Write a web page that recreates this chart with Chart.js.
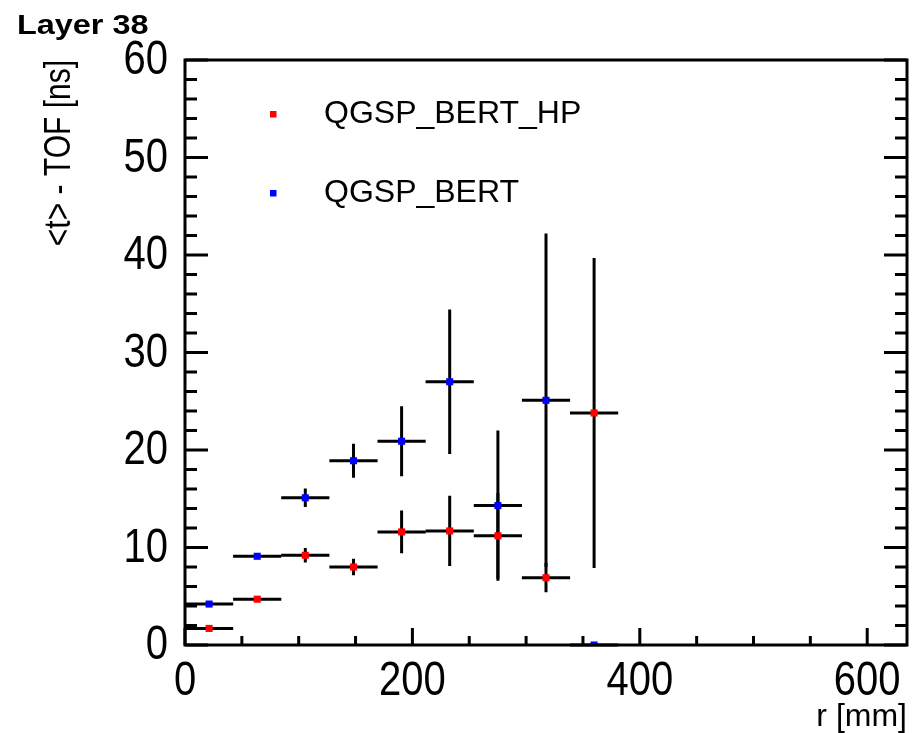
<!DOCTYPE html>
<html>
<head>
<meta charset="utf-8">
<script src="https://cdn.jsdelivr.net/npm/chart.js@4.4.0/dist/chart.umd.min.js"></script>
<style>
  html, body { margin: 0; padding: 0; background: #fff; }
  #wrap { width: 912px; height: 733px; }
</style>
</head>
<body>
<div id="wrap"><canvas id="grafico" width="912" height="733"></canvas></div>
<script>
// valores
const rCenters = [21.2, 63.5, 105.8, 148.2, 190.5, 232.8, 275.2, 317.5, 359.8];
const rHalfWidth = 21.2;
const hpValues = [1.7, 4.7, 9.2, 8.0, 11.6, 11.7, 11.2, 6.9, 23.8];
const hpErrors = [0.15, 0.2, 0.75, 0.85, 2.2, 3.6, 4.4, 1.5, 15.9];
const bertValues = [4.2, 9.1, 15.1, 18.9, 20.9, 27.0, 14.3, 25.1, 0.0];
const bertErrors = [0.15, 0.2, 0.95, 1.75, 3.6, 7.4, 7.7, 17.1, 0.0];
const xTicks = [0, 200, 400, 600];
const yTicks = [0, 10, 20, 30, 40, 50, 60];
const seriesNames = ['QGSP_BERT_HP', 'QGSP_BERT'];

const FONT = '"Liberation Sans", Arial, Helvetica, sans-serif';

function pontos(vals, errs) {
    return rCenters.map((r, i) => ({ x: r, y: vals[i], err: errs[i] }));
}

// texto esticado (a figura original tem fontes um pouco "altas")
function texto(ctx, t, x, y, sx, sy) {
    ctx.save();
    ctx.translate(x, y);
    ctx.scale(sx, sy);
    ctx.fillText(t, 0, 0);
    ctx.restore();
}

// barras de erro + moldura estilo ROOT
const rootStyle = {
    id: 'rootStyle',
    beforeDatasetsDraw(chart) {
        const ctx = chart.ctx;
        const xs = chart.scales.x, ys = chart.scales.y;
        ctx.save();
        ctx.strokeStyle = '#000';
        ctx.lineWidth = 3;
        ctx.lineCap = 'butt';
        chart.data.datasets.forEach(ds => {
            ds.data.forEach(p => {
                const px = xs.getPixelForValue(p.x);
                const py = ys.getPixelForValue(p.y);
                ctx.beginPath();
                ctx.moveTo(xs.getPixelForValue(p.x - rHalfWidth), py);
                ctx.lineTo(xs.getPixelForValue(p.x + rHalfWidth), py);
                if (p.err > 0) {
                    ctx.moveTo(px, ys.getPixelForValue(p.y - p.err));
                    ctx.lineTo(px, ys.getPixelForValue(p.y + p.err));
                }
                ctx.stroke();
            });
        });
        ctx.restore();
    },
    afterDraw(chart) {
        const ctx = chart.ctx;
        const a = chart.chartArea;
        const xs = chart.scales.x, ys = chart.scales.y;
        ctx.save();
        ctx.strokeStyle = '#000';
        ctx.lineWidth = 3;
        ctx.strokeRect(a.left, a.top, a.right - a.left, a.bottom - a.top);

        // ticks do eixo y (esquerda e direita)
        ctx.beginPath();
        for (let v = 0; v <= 60; v += 2) {
            const py = ys.getPixelForValue(v);
            const len = v % 10 === 0 ? 23 : 12;
            ctx.moveTo(a.left, py); ctx.lineTo(a.left + len, py);
            ctx.moveTo(a.right, py); ctx.lineTo(a.right - len, py);
        }
        // ticks do eixo x
        for (let v = 0; v <= 635; v += 50) {
            const px = xs.getPixelForValue(v);
            const len = v % 200 === 0 ? 17 : 9;
            ctx.moveTo(px, a.bottom); ctx.lineTo(px, a.bottom - len);
        }
        ctx.stroke();

        // rótulos dos ticks
        ctx.fillStyle = '#000';
        ctx.font = '40px ' + FONT;
        ctx.textAlign = 'right';
        ctx.textBaseline = 'middle';
        yTicks.forEach(v => texto(ctx, String(v), a.left - 17, ys.getPixelForValue(v) + 1, 1, 1.2));
        ctx.textAlign = 'center';
        xTicks.forEach(v => texto(ctx, String(v), xs.getPixelForValue(v), a.bottom + 37, 1, 1.2));

        // títulos
        ctx.font = '32px ' + FONT;
        ctx.textAlign = 'right';
        ctx.textBaseline = 'alphabetic';
        texto(ctx, 'r [mm]', a.right, 726, 1, 1);

        ctx.save();
        ctx.translate(70, a.top);
        ctx.rotate(-Math.PI / 2);
        ctx.font = '30px ' + FONT;
        ctx.textAlign = 'right';
        texto(ctx, '<t> - TOF [ns]', 0, 0, 1, 1.2);
        ctx.restore();

        ctx.font = 'bold 27px ' + FONT;
        ctx.textAlign = 'left';
        texto(ctx, 'Layer 38', 17, 34, 1.2, 1.05);

        // legenda
        const cores = ['#ff0000', '#0000ff'];
        const legY = [114, 193];
        ctx.font = '32px ' + FONT;
        ctx.textBaseline = 'middle';
        seriesNames.forEach((nome, i) => {
            ctx.fillStyle = cores[i];
            ctx.fillRect(270, legY[i] - 3, 6.5, 6.5);
            ctx.fillStyle = '#000';
            ctx.fillText(nome, 324, legY[i]);
        });
        ctx.restore();
    }
};

const ctxGrafico = document.getElementById('grafico').getContext('2d');
new Chart(ctxGrafico, {
    type: 'scatter',
    data: {
        datasets: [
            {
                label: seriesNames[0],
                data: pontos(hpValues, hpErrors),
                backgroundColor: '#ff0000',
                borderWidth: 0,
                pointStyle: 'rect',
                pointRadius: 5
            },
            {
                label: seriesNames[1],
                data: pontos(bertValues, bertErrors),
                backgroundColor: '#0000ff',
                borderWidth: 0,
                pointStyle: 'rect',
                pointRadius: 5
            }
        ]
    },
    options: {
        responsive: false,
        animation: false,
        layout: { padding: { left: 185, top: 60, right: 3, bottom: 88 } },
        scales: {
            x: { type: 'linear', min: 0, max: 635, display: false },
            y: { type: 'linear', min: 0, max: 60, display: false }
        },
        plugins: { legend: { display: false }, tooltip: { enabled: false } }
    },
    plugins: [rootStyle]
});
</script>
</body>
</html>
